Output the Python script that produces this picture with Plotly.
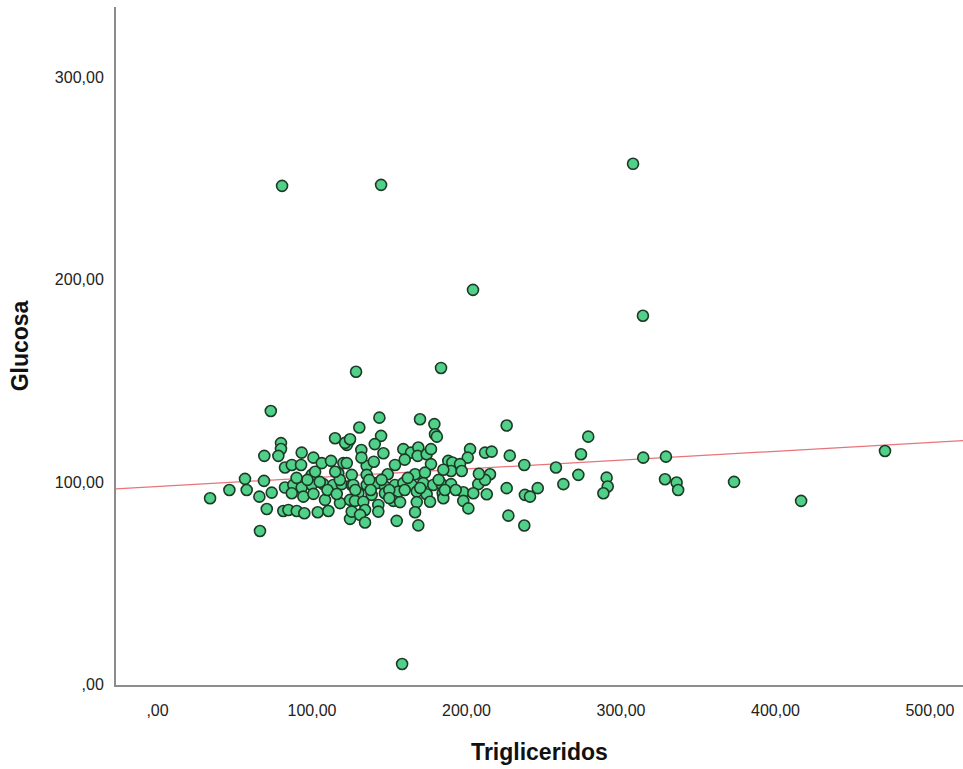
import plotly.graph_objects as go

# Triglicéridos (x) y Glucosa (y)
trigliceridos = [
    # outliers
    80.6, 144.7, 307.8, 204.2, 314.2, 128.5, 183.5, 158.3, 470.9, 416.6, 373.2,
    # left cluster
    73.3, 114.9, 124.0, 79.9, 79.9, 69.1, 78.2, 93.3, 82.5, 86.9, 92.9, 100.9,
    106.3, 112.3, 120.3, 99.8, 117.0, 56.6, 68.9, 34.0, 46.5, 57.7, 65.9, 73.9,
    82.5, 87.9, 93.3, 99.8, 107.3, 113.8, 119.2, 125.7, 86.9, 94.4, 100.9, 108.4,
    118.1, 124.6, 70.7, 81.4, 84.7, 90.1, 95.0, 103.7, 110.6, 124.6, 66.3,
    122.5, 121.4, 125.7,
    # central cluster
    143.6, 169.9, 179.2, 179.6, 180.8, 130.6, 144.7, 124.6, 140.6, 131.9, 146.2,
    159.1, 164.1, 168.8, 168.4, 174.2, 177.0, 202.3, 212.0, 216.3, 200.8, 122.5,
    135.4, 153.7, 177.0, 188.2, 190.8, 195.8, 135.4, 149.0, 166.7, 173.1, 190.0,
    196.9, 215.2, 126.7, 135.4, 141.9, 147.2, 153.7, 159.1, 164.5, 172.0, 178.5,
    183.9, 190.0, 207.6, 212.0, 130.0, 138.6, 147.2, 155.9, 167.8, 174.2, 184.6,
    197.9, 204.4, 213.1, 127.8, 133.2, 142.9, 152.6, 157.0, 167.8, 176.4, 185.0,
    197.9, 125.7, 134.3, 142.9, 166.7, 201.2, 131.1, 134.3, 154.8, 168.8,
    # partly hidden points in the dense core
    105.0, 110.0, 116.0, 128.0, 137.0, 145.0, 150.0, 160.0, 162.0, 170.0,
    182.0, 186.0, 193.0, 118.0, 97.0, 90.0, 140.0, 160.0, 185.0, 208.0,
    138.0, 150.0, 115.0, 102.0, 132.0,
    # right cluster
    226.0, 278.8, 228.0, 274.1, 314.4, 237.4, 257.9, 272.4, 290.7, 291.4, 288.6,
    262.7, 226.0, 246.1, 237.8, 241.1, 227.1, 237.4, 329.1, 328.5, 336.0, 337.0,
]

glucosa = [
    # outliers
    246.5, 247.0, 257.4, 195.0, 182.2, 154.5, 156.4, 9.9, 115.3, 90.6, 100.0,
    # left cluster
    135.1, 121.6, 120.3, 119.2, 116.3, 112.9, 112.9, 114.5, 107.1, 108.4, 108.4, 112.0,
    109.3, 110.4, 109.3, 103.5, 104.3, 101.5, 100.5, 91.9, 96.0, 96.0, 92.7, 94.7,
    97.2, 98.5, 97.2, 98.5, 98.9, 98.5, 98.9, 98.5, 94.4, 92.7, 94.1, 91.1,
    89.5, 91.1, 86.6, 85.6, 86.1, 85.6, 84.5, 85.0, 85.6, 81.7, 75.7,
    118.3, 119.3, 103.5,
    # central cluster
    131.8, 131.0, 128.6, 123.6, 122.4, 126.9, 122.8, 121.1, 118.7, 115.8, 114.2,
    116.2, 114.5, 117.0, 112.9, 113.7, 116.2, 116.2, 114.5, 115.0, 112.0, 109.3,
    107.9, 108.4, 108.8, 110.4, 109.6, 108.8, 103.5, 103.8, 103.8, 104.6, 105.4,
    105.4, 103.8, 98.5, 98.5, 99.4, 97.7, 98.5, 99.4, 98.5, 99.4, 98.5,
    98.9, 98.9, 98.9, 101.0, 94.4, 93.6, 94.4, 95.2, 95.2, 93.9, 94.4,
    94.9, 94.4, 93.9, 90.6, 90.2, 88.6, 90.6, 90.0, 90.0, 90.2, 91.9,
    90.6, 85.3, 86.1, 85.3, 85.0, 86.9, 83.7, 79.9, 80.7, 78.5,
    # partly hidden points in the dense core
    100.0, 96.0, 94.0, 96.0, 101.0, 101.0, 96.0, 96.0, 102.0, 97.0,
    101.0, 96.0, 96.0, 101.0, 101.0, 102.0, 110.0, 111.0, 106.0, 104.0,
    96.0, 92.0, 105.0, 105.0, 112.0,
    # right cluster
    127.9, 122.4, 113.0, 113.7, 112.0, 108.4, 107.1, 103.5, 102.1, 97.7, 94.4,
    98.9, 96.9, 96.9, 93.6, 92.7, 83.3, 78.4, 112.5, 101.3, 99.7, 96.0,
]

# Recta de ajuste
fit_intercept = 97.7
fit_slope = 0.0436

x_tickvals = [0, 100, 200, 300, 400, 500]
x_ticktext = [",00", "100,00", "200,00", "300,00", "400,00", "500,00"]
y_tickvals = [0, 100, 200, 300]
y_ticktext = [",00", "100,00", "200,00", "300,00"]

x_range = [-26.9, 521.4]
y_range = [-0.5, 335.0]

fit_x = x_range
fit_y = [fit_intercept + fit_slope * v for v in fit_x]

fig = go.Figure()
fig.add_trace(go.Scatter(
    x=fit_x, y=fit_y, mode="lines",
    line=dict(color="#e77479", width=1.2),
    hoverinfo="skip", showlegend=False,
))
fig.add_trace(go.Scatter(
    x=trigliceridos, y=glucosa, mode="markers",
    marker=dict(size=11, color="#50d088",
                line=dict(color="#1c3a26", width=1.6)),
    showlegend=False,
))

font_family = "Liberation Sans, Arial, sans-serif"
fig.update_layout(
    width=963, height=769,
    margin=dict(l=116, r=0, t=7, b=84),
    paper_bgcolor="white", plot_bgcolor="white",
    font=dict(family=font_family, color="#222222", size=16),
)
fig.update_xaxes(
    range=x_range, tickvals=x_tickvals, ticktext=x_ticktext,
    showgrid=False, zeroline=False, showline=True,
    linecolor="#8c8c8c", linewidth=2, ticks="",
    ticklabelstandoff=10,
    tickfont=dict(size=16, color="#222222"),
    title=dict(text="<b>Trigliceridos</b>", standoff=26,
               font=dict(size=23, color="#111111")),
)
fig.update_yaxes(
    range=y_range, tickvals=y_tickvals, ticktext=y_ticktext,
    showgrid=False, zeroline=False, showline=True,
    linecolor="#8c8c8c", linewidth=2, ticks="",
    ticklabelstandoff=7,
    tickfont=dict(size=16, color="#222222"),
    title=dict(text="<b>Glucosa</b>", standoff=20,
               font=dict(size=23, color="#111111")),
)

fig.write_html("out.html")
